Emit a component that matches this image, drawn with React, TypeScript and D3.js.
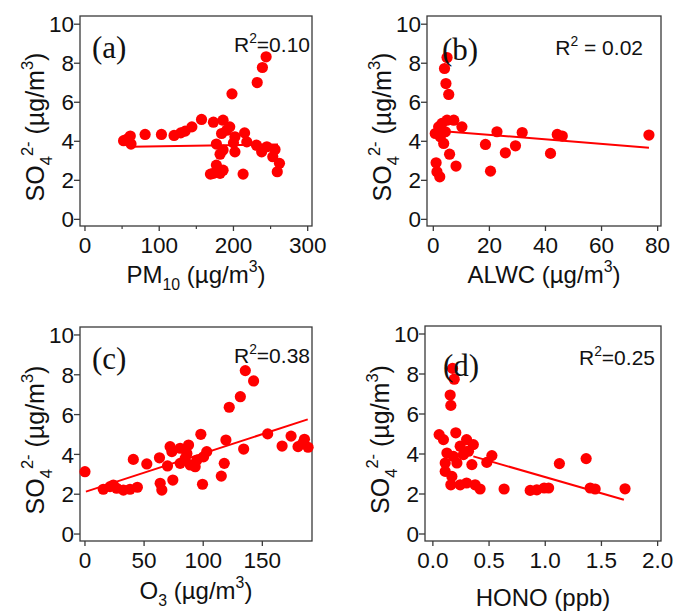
import React, { useEffect, useRef } from 'react';
import * as d3 from 'd3';

// values
const pm10X = [244, 239, 232, 198, 157, 144, 135, 129, 120, 103, 81, 61, 56, 62, 52, 173, 186, 195, 184, 202, 215, 218, 200, 177, 186, 182, 202, 231, 238, 245, 256, 253, 262, 259, 177, 173, 182, 186, 169, 213, 191];
const pm10Y = [8.33, 7.78, 7.01, 6.43, 5.12, 4.74, 4.52, 4.43, 4.30, 4.35, 4.35, 4.27, 4.10, 3.86, 4.03, 4.98, 5.08, 4.74, 4.40, 4.23, 4.43, 3.97, 3.92, 3.86, 3.55, 3.34, 3.46, 3.80, 3.46, 3.72, 3.58, 3.21, 2.87, 2.44, 2.78, 2.36, 2.36, 2.52, 2.32, 2.32, 4.57];
const pm10Fit = [[62, 3.72], [260, 3.84]];

const alwcX = [4.9, 4.0, 4.5, 5.5, 4.9, 7.3, 10.2, 1.9, 3.1, 0.7, 2.5, 3.7, 4.3, 5.8, 8.1, 1.0, 1.3, 2.3, 18.6, 20.4, 22.7, 25.7, 29.3, 31.7, 41.8, 44.2, 46.0, 76.9];
const alwcY = [8.29, 7.73, 6.96, 6.40, 5.08, 5.08, 4.74, 4.74, 4.92, 4.40, 4.23, 3.89, 4.49, 3.34, 2.73, 2.90, 2.44, 2.18, 3.84, 2.47, 4.49, 3.41, 3.77, 4.45, 3.38, 4.35, 4.27, 4.32];
const alwcFit = [[3.7, 4.52], [76.9, 3.67]];

const o3X = [0, 15.5, 21.2, 26.8, 32.5, 38.1, 44.3, 24, 40.9, 52.3, 63, 69.8, 63.6, 65, 74.3, 72, 73.5, 80.5, 87.6, 86.2, 80.5, 84.7, 89, 93.2, 94.7, 98, 100.3, 103, 99.4, 115.3, 117.8, 119.2, 122, 131.4, 135.6, 142.6, 134.2, 154.5, 166.7, 174.3, 180.2, 185.6, 188.7, 184.2];
const o3Y = [3.13, 2.25, 2.38, 2.30, 2.21, 2.25, 2.35, 2.46, 3.75, 3.52, 3.83, 3.42, 2.55, 2.21, 2.71, 4.39, 4.14, 4.31, 4.47, 4.05, 3.55, 3.80, 3.47, 3.38, 3.72, 5.01, 3.88, 4.14, 2.50, 2.91, 3.55, 4.72, 6.37, 6.90, 8.21, 7.69, 4.27, 5.03, 4.42, 4.92, 4.39, 4.76, 4.36, 4.56];
const o3Fit = [[0.8, 2.13], [188.4, 5.76]];

const honoX = [0.175, 0.19, 0.154, 0.16, 0.056, 0.094, 0.204, 0.30, 0.36, 0.243, 0.125, 0.183, 0.272, 0.317, 0.11, 0.214, 0.347, 0.11, 0.169, 0.16, 0.243, 0.30, 0.376, 0.42, 0.48, 0.525, 0.634, 0.866, 0.925, 0.99, 1.03, 1.126, 1.364, 1.40, 1.444, 1.71];
const honoY = [8.28, 7.74, 6.95, 6.43, 4.97, 4.72, 5.06, 4.72, 4.47, 4.39, 4.05, 3.88, 3.97, 4.14, 3.55, 3.55, 3.47, 3.13, 2.88, 2.46, 2.46, 2.55, 2.46, 2.25, 3.58, 3.92, 2.25, 2.18, 2.21, 2.30, 2.30, 3.52, 3.77, 2.30, 2.25, 2.26];
const honoFit = [[0.36, 3.88], [1.70, 1.71]];

const yTicks = [0, 2, 4, 6, 8, 10];
const pm10Ticks = [0, 100, 200, 300];
const pm10Minor = [50, 150, 250];
const alwcTicks = [0, 20, 40, 60, 80];
const o3Ticks = [0, 50, 100, 150];
const honoTicks = [0, 0.5, 1.0, 1.5, 2.0];

const panelLabels = ['(a)', '(b)', '(c)', '(d)'];
const r2Labels = ['=0.10', ' = 0.02', '=0.38', '=0.25'];

const SANS = '"Liberation Sans", Arial, sans-serif';
const SERIF = '"Liberation Serif", "Times New Roman", serif';
const RED = '#ff0000';

// segments: [text, shift] where shift is 'sub' | 'sup' | ''
function richText(g, segs, size) {
  let cur = 0;
  segs.forEach(([t, s]) => {
    const off = s === 'sub' ? size * 0.3 : s === 'sup' ? -size * 0.45 : 0;
    g.append('tspan')
      .attr('dy', off - cur)
      .attr('font-size', s ? size * 0.66 : size)
      .text(t);
    cur = off;
  });
}

function App() {
  const ref = useRef(null);

  useEffect(() => {
    const root = d3.select(ref.current);
    root.selectAll('*').remove();

    const svg = root.append('svg')
      .attr('width', 678)
      .attr('height', 612)
      .style('position', 'absolute')
      .style('left', 0)
      .style('top', 0)
      .style('background', '#fff');

    const panels = [
      { xs: pm10X, ys: pm10Y, fit: pm10Fit, ticks: pm10Ticks, minor: pm10Minor, fmt: d3.format('d'),
        box: [80, 312, 16, 226], xd: [-6.7, 305.8], yd: [-0.34, 10.42],
        title: [['PM', ''], ['10', 'sub'], [' (µg/m', ''], ['3', 'sup'], [')', '']], titleY: 283,
        lab: [92, 58], r2: [310, 52] },
      { xs: alwcX, ys: alwcY, fit: alwcFit, ticks: alwcTicks, minor: [], fmt: d3.format('d'),
        box: [427, 661, 16, 226], xd: [-2.25, 81.2], yd: [-0.34, 10.42],
        title: [['ALWC (µg/m', ''], ['3', 'sup'], [')', '']], titleY: 283,
        lab: [442, 60], r2: [643, 55] },
      { xs: o3X, ys: o3Y, fit: o3Fit, ticks: o3Ticks, minor: [], fmt: d3.format('d'),
        box: [80, 312, 327, 541], xd: [-4.2, 192], yd: [-0.35, 10.4],
        title: [['O', ''], ['3', 'sub'], [' (µg/m', ''], ['3', 'sup'], [')', '']], titleY: 599,
        lab: [92, 369], r2: [310, 363] },
      { xs: honoX, ys: honoY, fit: honoFit, ticks: honoTicks, minor: [], fmt: d3.format('.1f'),
        box: [425, 661, 326, 541], xd: [-0.07, 2.03], yd: [-0.35, 10.4],
        title: [['HONO (ppb)', '']], titleY: 606,
        lab: [443, 376], r2: [655, 365] },
    ];

    panels.forEach((p, i) => {
      const [l, r, t, b] = p.box;
      const x = d3.scaleLinear().domain(p.xd).range([l, r]);
      const y = d3.scaleLinear().domain(p.yd).range([b, t]);
      const g = svg.append('g');

      // frame
      g.append('rect')
        .attr('x', l).attr('y', t)
        .attr('width', r - l).attr('height', b - t)
        .attr('fill', 'none')
        .attr('stroke', '#3a3a3a')
        .attr('stroke-width', 1.3);

      // y ticks
      yTicks.forEach(v => {
        g.append('line')
          .attr('x1', l - 6).attr('x2', l)
          .attr('y1', y(v)).attr('y2', y(v))
          .attr('stroke', '#3a3a3a').attr('stroke-width', 1.3);
        g.append('text')
          .attr('x', l - 6).attr('y', y(v))
          .attr('dy', '0.36em')
          .attr('text-anchor', 'end')
          .attr('font-family', SANS).attr('font-size', 22.5)
          .attr('fill', '#111')
          .text(v);
      });

      // x ticks
      p.ticks.forEach(v => {
        g.append('line')
          .attr('x1', x(v)).attr('x2', x(v))
          .attr('y1', b).attr('y2', b + 5)
          .attr('stroke', '#3a3a3a').attr('stroke-width', 1.3);
        g.append('text')
          .attr('x', x(v)).attr('y', b + 27)
          .attr('text-anchor', 'middle')
          .attr('font-family', SANS).attr('font-size', 22.5)
          .attr('fill', '#111')
          .text(p.fmt(v));
      });
      p.minor.forEach(v => {
        g.append('line')
          .attr('x1', x(v)).attr('x2', x(v))
          .attr('y1', b).attr('y2', b + 3)
          .attr('stroke', '#3a3a3a').attr('stroke-width', 1.2);
      });

      // points
      g.selectAll('.dot')
        .data(p.xs.map((v, k) => [v, p.ys[k]]))
        .enter().append('circle')
        .attr('cx', d => x(d[0]))
        .attr('cy', d => y(d[1]))
        .attr('r', 5.6)
        .attr('fill', RED);

      // fit line
      g.append('path')
        .datum(p.fit)
        .attr('fill', 'none')
        .attr('stroke', RED)
        .attr('stroke-width', 2)
        .attr('d', d3.line().x(d => x(d[0])).y(d => y(d[1])));

      // x title
      const xt = g.append('text')
        .attr('x', (l + r) / 2).attr('y', p.titleY)
        .attr('text-anchor', 'middle')
        .attr('font-family', SANS).attr('fill', '#111');
      richText(xt, p.title, 24);

      // y title
      const cx = l - 36;
      const cy = (t + b) / 2 + 6;
      const yt = g.append('text')
        .attr('transform', `translate(${cx},${cy}) rotate(-90)`)
        .attr('text-anchor', 'middle')
        .attr('font-family', SANS).attr('fill', '#111');
      richText(yt, [['SO', ''], ['4', 'sub'], ['2-', 'sup'], ['  (µg/m', ''], ['3', 'sup'], [')', '']], 25);

      // panel label
      g.append('text')
        .attr('x', p.lab[0]).attr('y', p.lab[1])
        .attr('font-family', SERIF).attr('font-size', 31)
        .attr('fill', '#111')
        .text(panelLabels[i]);

      // R2
      const rt = g.append('text')
        .attr('x', p.r2[0]).attr('y', p.r2[1])
        .attr('text-anchor', 'end')
        .attr('font-family', SANS).attr('fill', '#111');
      richText(rt, [['R', ''], ['2', 'sup'], [r2Labels[i], '']], 21);
    });
  }, []);

  return <div ref={ref}></div>;
}

export default App;
